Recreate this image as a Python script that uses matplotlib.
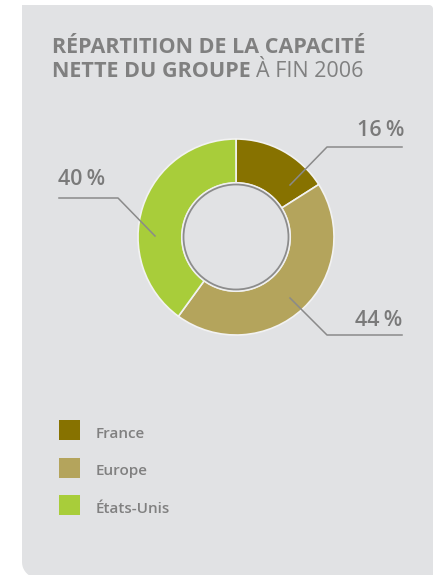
import numpy as np
import matplotlib.pyplot as plt
from matplotlib.patches import Circle, Rectangle, Polygon

categories = ['France', 'Europe', 'États-Unis']
shares = [16, 44, 40]
colors = ['#877200', '#b4a45c', '#a8cd3a']

BG = '#e1e2e4'
GREY = '#808080'
W, H = 436, 575

plt.rcParams['font.family'] = ['Open Sans', 'DejaVu Sans']

fig = plt.figure(figsize=(W / 100, H / 100), dpi=100)
ax = fig.add_axes([0, 0, 1, 1])


def py(y):
    # pixel row (from top) -> data y
    return H - y


def panel(x0, x1, y0, y1, r_tr, r_bl):
    pts = [(x0, y1)]
    pts.append((x1 - r_tr, y1))
    for a in np.linspace(90, 0, 12):
        pts.append((x1 - r_tr + r_tr * np.cos(np.radians(a)), y1 - r_tr + r_tr * np.sin(np.radians(a))))
    pts.append((x1, y0))
    for a in np.linspace(270, 180, 12):
        pts.append((x0 + r_bl + r_bl * np.cos(np.radians(a)), y0 + r_bl + r_bl * np.sin(np.radians(a))))
    return Polygon(pts, closed=True, facecolor=BG, edgecolor='none')


ax.add_patch(panel(22, 433, py(578), py(5), 4, 16))

# donut
cx, cy, R = 236, py(237), 98
ax.pie(shares, colors=colors, startangle=90, counterclock=False,
       center=(cx, cy), radius=R, frame=True,
       wedgeprops=dict(width=44, edgecolor='#f2f2f2', linewidth=1.2))
ax.set_xlim(0, W)
ax.set_ylim(0, H)
ax.set_aspect('auto')
ax.axis('off')
ax.add_patch(Circle((cx, cy), 54, facecolor=BG, edgecolor='#f0f0f0', lw=1.5, zorder=3))
ax.add_patch(Circle((cx, cy), 52.5, facecolor='none', edgecolor='#8c8c8c', lw=1.3, zorder=4))

# leader lines and percentages
lc = '#8a8a8a'
ax.plot([290, 327, 402], [py(185), py(147), py(147)], color=lc, lw=1.1, zorder=5)
ax.plot([290, 327, 402], [py(298), py(335), py(335)], color=lc, lw=1.1, zorder=5)
ax.plot([155, 118, 59], [py(236), py(198), py(198)], color=lc, lw=1.1, zorder=5)

pct_kw = dict(color='#7a7a7a', fontsize=15.5, fontweight='semibold')
ax.text(404, py(136), f'{shares[0]}\u2009%', ha='right', va='baseline', **pct_kw)
ax.text(402, py(326), f'{shares[1]}\u2009%', ha='right', va='baseline', **pct_kw)
ax.text(58, py(185), f'{shares[2]}\u2009%', ha='left', va='baseline', **pct_kw)

# title
tkw = dict(color=GREY, fontsize=15.5, va='baseline', ha='left')
ax.text(52, py(53), 'RÉPARTITION DE LA CAPACITÉ', fontweight='bold', **tkw)
t2 = ax.text(52, py(77), 'NETTE DU GROUPE', fontweight='bold', **tkw)
fig.canvas.draw()
bb = t2.get_window_extent(fig.canvas.get_renderer())
ax.text(bb.x1 + 5, py(77), 'À FIN 2006', fontweight='normal', **tkw)

# legend
for i, (name, col) in enumerate(zip(categories, colors)):
    top = 420 + i * 37.5
    ax.add_patch(Rectangle((59, py(top + 20)), 21, 20, facecolor=col, edgecolor='none'))
    ax.text(96, py(top + 18), name, color=GREY, fontsize=11, fontweight='semibold',
            va='baseline', ha='left')

fig.savefig('out.png', dpi=100, facecolor='white')
